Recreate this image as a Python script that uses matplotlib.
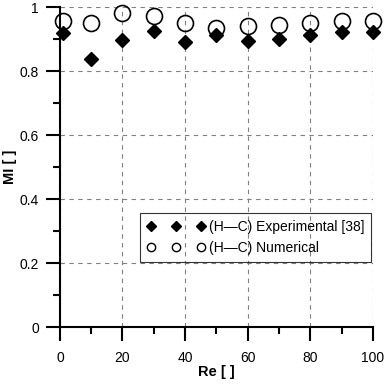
import matplotlib
matplotlib.use("Agg")
import matplotlib.pyplot as plt
from matplotlib.lines import Line2D
from matplotlib.ticker import MultipleLocator

plt.rcParams['font.family'] = ['Liberation Sans', 'DejaVu Sans']

re_vals = [1, 10, 20, 30, 40, 50, 60, 70, 80, 90, 100]
mi_experimental = [0.919, 0.838, 0.898, 0.927, 0.893, 0.913, 0.896, 0.900, 0.913, 0.922, 0.923]
mi_numerical = [0.958, 0.950, 0.981, 0.974, 0.952, 0.936, 0.942, 0.945, 0.952, 0.956, 0.958]
label_exp = "(H\u2014C) Experimental [38]"
label_num = "(H\u2014C) Numerical"

fig = plt.figure(figsize=(3.84, 3.84), dpi=100)
ax = fig.add_axes([0.156, 0.148, 0.815, 0.833])

ax.plot(re_vals, mi_numerical, linestyle='none', marker='o', markersize=11.5,
        markerfacecolor='none', markeredgecolor='black', markeredgewidth=1.2,
        zorder=3, clip_on=False)
ax.plot(re_vals, mi_experimental, linestyle='none', marker='D', markersize=7.5,
        markerfacecolor='black', markeredgecolor='black',
        zorder=4, clip_on=False)

ax.set_xlim(0, 100)
ax.set_ylim(0, 1)
ax.xaxis.set_major_locator(MultipleLocator(20))
ax.xaxis.set_minor_locator(MultipleLocator(10))
ax.yaxis.set_minor_locator(MultipleLocator(0.1))
ax.set_yticks([0, 0.2, 0.4, 0.6, 0.8, 1.0])
ax.set_yticklabels(['0', '0.2', '0.4', '0.6', '0.8', '1'])

for s in ['top', 'right']:
    ax.spines[s].set_visible(False)
for s in ['left', 'bottom']:
    ax.spines[s].set_linewidth(1.5)

ax.tick_params(which='major', direction='out', length=10, width=1.5, labelsize=10, pad=5)
ax.tick_params(axis='x', which='major', pad=7)
ax.tick_params(which='minor', direction='out', length=5, width=1.5)

ax.grid(True, which='major', linestyle=(0, (4, 4)), color='#808080', linewidth=0.8)
ax.set_axisbelow(True)

ax.set_xlabel('Re [ ]', fontsize=10.5, fontweight='bold', labelpad=0)
ax.set_ylabel('MI [ ]', fontsize=10.5, fontweight='bold', va='center')
ax.yaxis.set_label_coords(-0.158, 0.5)

h_exp = Line2D([], [], linestyle='none', marker='D', markersize=4.8,
               markerfacecolor='black', markeredgecolor='black')
h_num = Line2D([], [], linestyle='none', marker='o', markersize=6,
               markerfacecolor='none', markeredgecolor='black', markeredgewidth=1.0)
leg = ax.legend([h_exp, h_num], [label_exp, label_num], loc='lower right',
                bbox_to_anchor=(0.994, 0.204), borderaxespad=0, numpoints=3,
                handlelength=4.2, handletextpad=0.25, fontsize=10,
                frameon=True, fancybox=False, labelspacing=0.5, borderpad=0.5)
leg.get_frame().set_facecolor('none')
leg.get_frame().set_edgecolor('black')
leg.get_frame().set_linewidth(0.8)

fig.savefig('out.png', dpi=100)
